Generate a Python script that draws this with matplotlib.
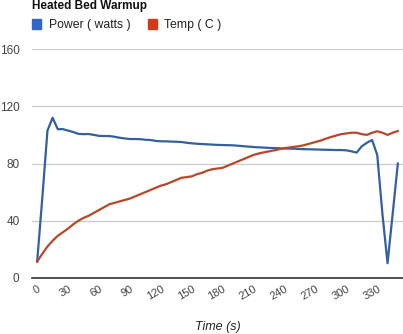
import numpy as np
import matplotlib
matplotlib.use('Agg')
import matplotlib.pyplot as plt
from matplotlib.patches import Rectangle

plt.rcParams['font.family'] = ['Liberation Sans', 'DejaVu Sans']

# sample times (s) and readings
time_s = list(range(0, 355, 5))
power_w = [11.5, 56, 103, 112, 104, 104, 103, 102, 100.7, 100.5,
           100.6, 100, 99.3, 99.2, 99.2, 98.7, 98, 97.5, 97.1, 97.1,
           97, 96.6, 96.4, 95.8, 95.5, 95.5, 95.3, 95.2, 95, 94.5,
           94.1, 93.8, 93.6, 93.4, 93.2, 93, 92.9, 92.8, 92.7, 92.4,
           92.1, 91.8, 91.5, 91.3, 91.1, 90.9, 90.8, 90.6, 90.5, 90.4,
           90.3, 90.1, 90, 89.9, 89.8, 89.7, 89.6, 89.5, 89.4, 89.4,
           89.2, 88.5, 87.6, 92, 94.5, 96.4, 86, 45, 10.3, 45,
           80]
temp_c = [11.5, 17, 22, 26, 29.5, 32, 34.5, 37.5, 40, 42,
          43.5, 45.5, 47.5, 49.5, 51.5, 52.5, 53.5, 54.5, 55.5, 57,
          58.5, 60, 61.5, 63, 64.5, 65.5, 67, 68.5, 70, 70.5,
          71, 72.5, 73.5, 75, 76, 76.5, 77, 78.5, 80, 81.5,
          83, 84.5, 86, 87, 87.8, 88.5, 89.2, 90, 90.7, 91.2,
          91.7, 92.2, 93, 94, 95, 96, 97.3, 98.5, 99.5, 100.5,
          101, 101.5, 101.5, 100.5, 100, 101.5, 102.5, 101.5, 100, 101.5,
          102.7]

x_ticks = list(range(0, 331, 30))
y_ticks = [0, 40, 80, 120, 160]
series = ['Power ( watts )', 'Temp ( C )']
line_colors = ['#35609e', '#b8472a']
key_colors = ['#3366cc', '#d03a18']

fig = plt.figure(figsize=(4.03, 3.34), dpi=100)
ax = fig.add_axes([32 / 403, 56 / 334, 371 / 403, 229 / 334])

ax.plot(time_s, power_w, color=line_colors[0], lw=1.6, solid_joinstyle='round')
ax.plot(time_s, temp_c, color=line_colors[1], lw=1.6, solid_joinstyle='round')

ax.set_xlim(-5, 355)
ax.set_ylim(0, 160)
ax.set_yticks(y_ticks)
ax.set_xticks(x_ticks)
ax.set_yticklabels([str(v) for v in y_ticks], fontsize=8.5, color='#444444')
ax.set_xticklabels([str(v) for v in x_ticks], fontsize=8, color='#444444',
                   rotation=30, ha='right', va='top', rotation_mode='anchor')
ax.tick_params(axis='y', length=0, pad=9)
ax.tick_params(axis='x', length=0, pad=4)
ax.grid(axis='y', color='#cccccc', lw=0.9)
ax.set_axisbelow(True)
for side in ['left', 'right', 'top']:
    ax.spines[side].set_visible(False)
ax.spines['bottom'].set_color('#333333')
ax.spines['bottom'].set_linewidth(1.2)
ax.spines['bottom'].set_zorder(5)

ax.set_xlabel('Time (s)', fontsize=9, style='italic', color='#222222', labelpad=14)

fig.text(32 / 403, 1 - 9 / 334, 'Heated Bed Warmup', fontsize=8.5,
         fontweight='bold', color='#111111', va='baseline')

# legend keys across the top
key_x = [32, 148]
text_x = [49, 164]
for i in range(2):
    fig.patches.append(Rectangle((key_x[i] / 403, 1 - 29 / 334), 9 / 403, 10 / 334,
                                 transform=fig.transFigure, color=key_colors[i]))
    fig.text(text_x[i] / 403, 1 - 28 / 334, series[i], fontsize=8.8,
             color='#222222', va='baseline')

fig.savefig('out.png', dpi=100)
